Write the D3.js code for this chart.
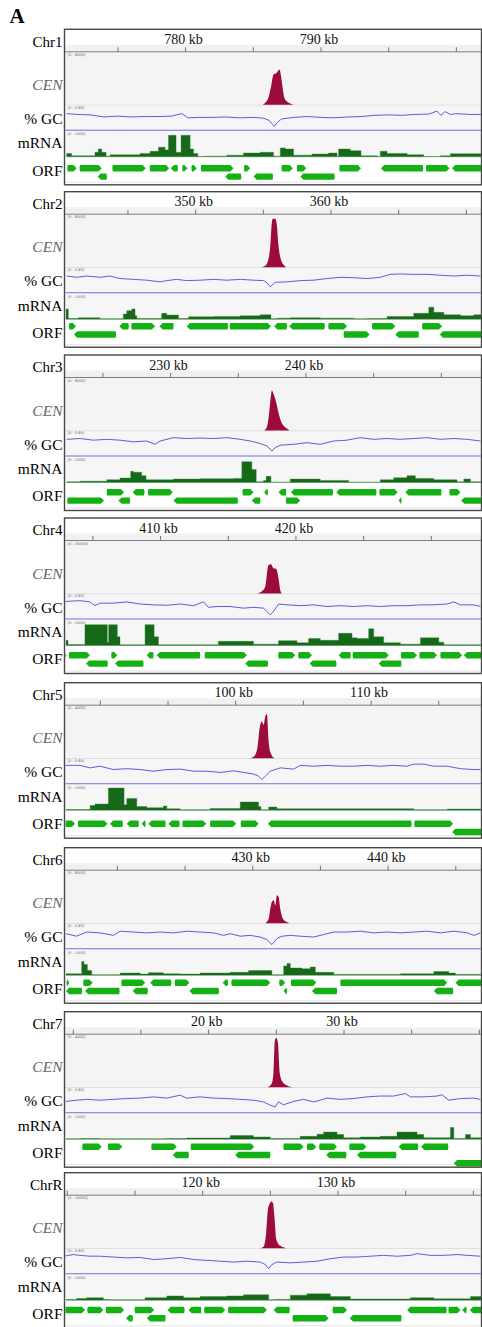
<!DOCTYPE html>
<html>
<head>
<meta charset="utf-8">
<script src="https://cdn.jsdelivr.net/npm/d3@7"></script>
<style>
  body { margin: 0; background: #fff; }
  svg { display: block; }
  svg text { font-family: "Liberation Serif", "Times New Roman", serif; }
</style>
</head>
<body>
<svg id="fig" width="482" height="1327"></svg>
<script>
// chromosome windows around each centromere (kb)
const chromNames = ["Chr1", "Chr2", "Chr3", "Chr4", "Chr5", "Chr6", "Chr7", "ChrR"];
const windowKb = [[771.2, 801.82], [340.46, 371.08], [222.31, 252.93], [403.05, 433.67],
                  [87.5, 118.12], [416.24, 446.86], [9.5, 40.12], [109.94, 140.56]];
const labeledTicks = [[780, 790], [350, 360], [230, 240], [410, 420], [100, 110], [430, 440], [20, 30], [120, 130]];
const cenScaleMax = [8000, 8000, 8000, 20000, 4000, 8000, 4000, 10000];
const gcScaleMax = 0.6;
const mrnaScaleMax = 1500;

// CENP-A ChIP signal [kb, reads]
const cenPeaks = [
  [[785.72,0],[785.92,310],[786.16,1135],[786.36,2940],[786.53,4645],[786.73,4850],[786.85,5160],[786.98,5420],[787.08,4490],[787.20,2680],[787.32,1135],[787.52,515],[787.77,205],[788.01,0]],
  [[354.88,0],[355.18,210],[355.37,895],[355.55,3260],[355.67,6945],[355.74,7470],[355.92,7470],[356.04,6420],[356.16,3260],[356.34,1160],[356.53,370],[356.73,0]],
  [[236.95,0],[237.15,525],[237.32,2735],[237.45,5365],[237.52,6155],[237.64,5630],[237.84,4315],[238.01,2735],[238.19,1420],[238.38,735],[238.63,315],[238.83,0]],
  [[417.15,0],[417.52,900],[417.77,2580],[418.01,10970],[418.19,11220],[418.38,9680],[418.58,9420],[418.75,5800],[418.88,1290],[419.00,0]],
  [[101.06,0],[101.41,155],[101.65,860],[101.80,2300],[101.97,2820],[102.10,2560],[102.22,3210],[102.34,3395],[102.47,1255],[102.64,340],[102.88,0]],
  [[430.96,0],[431.21,630],[431.33,2210],[431.45,3260],[431.58,3525],[431.70,2735],[431.82,4315],[431.95,4050],[432.07,2210],[432.27,630],[432.51,210],[432.76,0]],
  [[24.41,0],[24.71,297],[24.83,1160],[24.93,3590],[25.03,3810],[25.15,3455],[25.28,1160],[25.45,485],[25.82,135],[26.26,0]],
  [[124.29,0],[124.54,320],[124.73,3030],[124.86,7550],[124.98,8515],[125.10,8965],[125.23,8710],[125.33,6255],[125.47,1740],[125.77,450],[126.21,0]]
];

// GC fraction [kb, GC]
const gcTracks = [
  [[771.25,.40],[772,.38],[773,.37],[774,.32],[775,.34],[776,.32],[777,.33],[778,.33],[779,.34],[779.75,.40],[780.2,.30],[781,.31],[782,.31],[783,.32],[784,.30],[785,.31],[785.8,.29],[786.2,.24],[786.4,.16],[786.6,.10],[786.8,.18],[787.1,.27],[788,.31],[789,.33],[790,.31],[791,.30],[792,.32],[793,.33],[794,.36],[795,.37],[796,.36],[797,.38],[798,.39],[798.6,.46],[798.9,.36],[799.2,.45],[799.6,.38],[800,.40],[801,.38],[801.9,.38]],
  [[340.51,.40],[341.25,.37],[341.99,.40],[342.97,.37],[343.71,.40],[344.45,.34],[345.44,.32],[346.42,.30],[347.41,.26],[347.90,.29],[348.64,.32],[349.38,.29],[350.37,.30],[351.36,.32],[352.34,.30],[353.33,.32],[354.31,.30],[355.05,.29],[355.30,.24],[355.55,.14],[355.67,.18],[355.92,.25],[356.78,.26],[357.77,.29],[358.75,.30],[359.74,.34],[360.72,.37],[361.71,.36],[362.70,.34],[363.68,.37],[364.42,.44],[365.16,.45],[366.15,.44],[367.14,.44],[368.12,.42],[369.11,.40],[370.09,.42],[371.08,.40]],
  [[222.36,.40],[223.34,.42],[224.33,.38],[225.32,.40],[226.30,.38],[227.29,.34],[228.27,.36],[228.89,.28],[229.26,.36],[230.25,.44],[231.23,.42],[232.22,.43],[233.21,.42],[234.19,.44],[235.18,.40],[235.92,.36],[236.66,.30],[237.15,.24],[237.52,.12],[237.77,.20],[238.14,.26],[239.12,.28],[240.11,.32],[241.09,.28],[242.08,.36],[243.07,.38],[244.05,.44],[245.04,.40],[246.03,.42],[247.01,.40],[248.00,.42],[248.98,.44],[249.97,.40],[250.96,.42],[251.94,.40],[252.93,.36]],
  [[402.97,.42],[404.08,.44],[404.82,.41],[405.19,.32],[405.56,.38],[406.55,.38],[407.53,.41],[408.52,.36],[409.51,.34],[410.49,.33],[411.48,.36],[412.47,.32],[413.21,.41],[413.57,.28],[414.19,.30],[415.18,.30],[416.16,.26],[416.90,.28],[417.64,.26],[417.89,.18],[418.14,.10],[418.38,.18],[418.75,.36],[419.37,.34],[420.36,.32],[421.34,.34],[422.33,.30],[423.31,.32],[424.30,.30],[425.29,.32],[426.27,.30],[427.26,.32],[428.24,.32],[429.23,.34],[430.22,.34],[431.20,.36],[431.70,.41],[432.19,.34],[433.18,.34],[433.67,.30]],
  [[87.43,.44],[88.54,.44],[89.28,.38],[90.01,.42],[91.00,.34],[91.99,.36],[92.97,.34],[93.96,.30],[94.95,.34],[95.93,.35],[96.92,.30],[97.90,.30],[98.89,.27],[99.88,.31],[100.62,.27],[101.36,.23],[101.73,.18],[101.97,.10],[102.22,.18],[102.59,.30],[103.33,.38],[104.31,.35],[104.81,.44],[105.79,.42],[106.78,.44],[107.77,.42],[108.75,.42],[109.74,.44],[110.72,.42],[111.71,.44],[112.70,.42],[113.19,.47],[113.93,.47],[114.67,.42],[115.66,.42],[116.64,.36],[117.63,.34],[118.12,.34]],
  [[416.24,.36],[417.03,.30],[417.77,.40],[418.76,.38],[419.74,.32],[420.24,.42],[421.22,.40],[422.21,.38],[423.20,.40],[424.18,.38],[425.17,.42],[426.15,.40],[427.14,.38],[427.88,.32],[428.37,.36],[429.11,.30],[429.85,.32],[430.59,.28],[431.08,.22],[431.45,.10],[431.82,.24],[432.19,.30],[432.81,.32],[433.55,.30],[434.54,.28],[435.52,.36],[436.02,.40],[437.00,.40],[437.99,.42],[438.97,.38],[439.96,.40],[440.95,.38],[441.93,.40],[442.92,.42],[443.91,.38],[444.89,.42],[445.88,.38],[446.37,.32],[446.86,.38]],
  [[9.50,.27],[10.29,.30],[11.03,.32],[12.01,.30],[13.00,.32],[13.98,.34],[14.97,.35],[15.96,.38],[16.94,.35],[17.93,.42],[18.42,.35],[19.41,.38],[20.39,.35],[21.38,.34],[22.37,.32],[23.35,.30],[24.09,.26],[24.59,.18],[24.96,.14],[25.20,.26],[25.57,.19],[26.31,.27],[27.05,.32],[27.79,.26],[28.28,.30],[28.78,.35],[29.76,.32],[30.75,.34],[31.74,.38],[32.72,.40],[33.71,.40],[34.57,.46],[34.94,.38],[35.93,.38],[36.91,.40],[37.28,.43],[37.78,.30],[38.64,.34],[39.63,.35],[40.12,.32]],
  [[109.79,.42],[110.48,.46],[110.98,.44],[111.72,.42],[112.46,.42],[113.44,.40],[114.43,.38],[115.41,.39],[116.40,.34],[117.39,.36],[118.37,.39],[119.36,.34],[120.35,.32],[121.33,.30],[122.32,.28],[123.30,.30],[124.29,.28],[124.66,.22],[124.91,.12],[125.15,.22],[125.52,.28],[126.51,.26],[127.50,.28],[128.48,.30],[129.47,.36],[130.45,.40],[131.44,.40],[132.43,.42],[133.41,.44],[134.40,.42],[135.38,.44],[135.88,.48],[136.86,.44],[137.85,.44],[138.84,.46],[139.58,.44],[140.56,.42]]
];

// RNA-seq coverage, step starts [kb, reads]
const mrnaTracks = [
  [[771.25,205],[771.62,60],[773.34,270],[773.59,470],[773.84,270],[774.16,40],[774.45,120],[776.67,205],[777.41,330],[778.03,575],[778.52,410],[778.77,1290],[779.33,270],[779.70,1290],[780.37,470],[780.62,205],[780.94,20],[781.41,40],[783.08,100],[784.31,225],[785.55,270],[786.53,40],[787.03,530],[787.40,470],[788.01,100],[789.37,165],[790.60,225],[791.22,40],[791.34,470],[792.20,370],[792.99,60],[794.18,20],[794.42,330],[794.92,205],[796.40,125],[797.63,20],[798.86,60],[799.60,185],[801.97,185]],
  [[340.46,615],[340.63,40],[341.37,80],[342.97,20],[344.70,310],[344.95,510],[345.32,615],[345.56,205],[345.69,40],[347.53,350],[347.90,245],[348.77,40],[349.51,145],[351.36,165],[353.33,205],[354.81,265],[355.60,20],[356.04,60],[357.03,80],[359.25,60],[361.71,20],[362.70,40],[364.18,165],[366.15,350],[367.26,720],[367.63,410],[368.37,265],[369.60,205],[370.59,265],[371.23,265]],
  [[222.36,40],[223.34,80],[225.32,165],[226.30,265],[227.09,675],[227.29,615],[227.90,410],[228.22,165],[230.25,205],[232.22,225],[234.68,245],[235.30,1250],[236.04,780],[236.36,40],[236.90,125],[237.10,370],[237.45,20],[238.88,205],[241.09,125],[243.19,20],[245.53,165],[246.52,285],[247.50,410],[248.12,245],[249.48,165],[251.20,40],[251.70,205],[252.19,40],[253.08,40]],
  [[403.05,310],[403.2,60],[404.45,1250],[406.10,200],[406.20,1250],[406.84,520],[407.04,40],[408.89,1250],[409.56,520],[409.88,40],[414.31,250],[416.90,80],[418.75,290],[420.11,165],[420.97,415],[421.83,310],[423.19,730],[424.18,460],[424.55,415],[425.41,1000],[425.78,520],[426.52,165],[427.75,80],[429.23,460],[430.59,200],[430.96,40],[433.82,40]],
  [[87.5,40],[89.28,280],[89.64,365],[90.63,1330],[91.79,320],[91.99,705],[92.73,215],[93.47,150],[94.70,255],[94.95,85],[95.93,20],[98.15,105],[100.37,490],[101.73,215],[101.90,20],[102.47,190],[103.08,85],[113.19,20],[115.66,65],[118.27,65]],
  [[416.24,85],[417.40,815],[417.57,645],[417.82,280],[418.14,20],[420.24,130],[421.72,65],[422.33,150],[423.44,85],[424.67,65],[426.15,130],[428.37,170],[429.73,280],[431.45,20],[432.32,555],[432.56,705],[432.81,430],[433.67,385],[434.29,495],[434.66,170],[436.02,45],[440.95,85],[443.41,215],[444.52,130],[445.01,45],[447.01,45]],
  [[9.50,20],[10.53,40],[12.01,20],[16.94,40],[18.42,65],[21.63,215],[23.35,130],[24.59,40],[26.80,170],[28.04,300],[28.53,430],[29.52,280],[30.01,85],[31.24,130],[32.72,170],[33.95,430],[35.43,280],[35.93,85],[37.90,705],[38.15,40],[39.01,280],[39.38,85],[40.27,85]],
  [[109.94,45],[110.73,105],[111.47,150],[112.70,45],[113.20,20],[115.78,150],[117.39,255],[118.62,150],[119.85,215],[121.82,255],[123.06,320],[124.91,20],[125.28,45],[126.51,300],[127.74,385],[129.47,215],[130.95,65],[135.38,150],[137.11,85],[139.82,215],[140.71,215]]
];

// ORFs [start kb, end kb, row, strand]
const orfTracks = [
  [[771.25,771.99,0,1],[772.16,773.84,0,1],[774.58,777.09,0,1],[777.34,778.82,0,1],[778.94,779.51,0,-1],[779.75,780.17,0,1],[780.42,780.86,0,1],[781.11,783.57,0,1],[784.31,784.81,0,1],[787.08,787.96,0,1],[788.21,788.95,0,1],[791.34,792.99,0,1],[794.47,797.63,0,-1],[797.75,799.53,0,1],[799.72,801.97,0,-1],[773.54,774.26,1,-1],[782.96,784.19,1,-1],[785.05,786.53,1,-1],[788.51,791.09,1,-1]],
  [[340.63,341.20,0,1],[344.40,345.14,0,-1],[345.24,347.04,0,1],[347.36,348.45,0,-1],[349.38,352.47,0,-1],[352.51,355.60,0,1],[355.84,356.83,0,-1],[356.95,359.62,0,-1],[359.79,361.22,0,1],[363.02,364.79,0,1],[366.72,368.24,0,1],[341.05,344.21,1,-1],[360.92,362.89,1,1],[364.79,366.57,1,-1],[368.07,371.23,1,-1]],
  [[225.27,226.60,0,1],[227.24,228.15,0,-1],[228.32,230.20,0,1],[235.30,236.16,0,1],[236.95,237.27,0,-1],[238.01,238.63,0,-1],[238.93,242.08,0,-1],[242.28,245.29,0,-1],[245.41,246.81,0,1],[247.38,250.09,0,-1],[250.59,251.45,0,1],[222.36,225.12,1,1],[226.18,227.09,1,-1],[230.25,235.05,1,-1],[236.04,236.71,1,-1],[238.51,239.62,1,1],[246.89,247.14,1,-1],[251.50,253.08,1,-1]],
  [[402.85,403.1,0,1],[403.22,404.82,0,1],[406.35,406.84,0,1],[409.01,409.56,0,-1],[409.75,413.01,0,-1],[413.25,416.41,0,1],[418.68,419.99,0,1],[420.16,421.22,0,1],[423.19,424.13,0,-1],[424.18,426.89,0,1],[427.75,428.98,0,1],[429.11,430.46,0,1],[430.66,432.31,0,1],[432.44,433.82,0,-1],[404.53,406.18,1,-1],[406.67,408.82,1,-1],[416.29,418.01,1,-1],[421.05,423.07,1,-1],[426.15,427.87,1,-1]],
  [[87.4,88.17,0,1],[88.34,90.56,0,1],[90.75,91.74,0,-1],[91.99,92.92,0,-1],[93.10,93.42,0,-1],[93.59,94.90,0,-1],[95.07,95.93,0,-1],[96.06,97.86,0,1],[98.10,100.07,0,1],[100.37,101.73,0,1],[102.42,113.07,0,-1],[113.19,116.10,0,1],[116.03,118.27,1,-1]],
  [[416.24,416.49,0,1],[417.47,418.21,0,1],[420.29,422.09,0,1],[422.46,424.06,0,-1],[424.23,425.36,0,1],[427.81,428.25,0,-1],[428.42,431.33,0,1],[431.95,432.44,0,1],[432.81,434.73,0,1],[436.46,444.40,0,1],[445.01,447.01,0,-1],[416.24,417.47,1,-1],[417.65,420.24,1,-1],[421.17,422.33,1,-1],[425.36,427.58,1,-1],[432.32,432.61,1,-1],[434.41,436.31,1,-1],[443.41,444.89,1,-1]],
  [[10.66,12.14,0,1],[12.55,13.66,0,1],[15.76,17.68,0,1],[18.67,23.40,0,1],[25.52,27.05,0,1],[27.25,27.99,0,1],[28.16,29.52,0,1],[30.38,31.69,0,1],[34.08,35.56,0,-1],[35.73,37.78,0,-1],[17.39,18.62,1,-1],[22.00,24.64,1,-1],[28.73,30.26,1,-1],[31.00,33.95,1,-1],[38.15,40.27,2,-1]],
  [[109.8,111.35,0,1],[111.47,112.70,0,1],[112.83,114.23,0,1],[114.97,116.45,0,1],[117.44,118.74,0,-1],[118.99,119.98,0,-1],[120.10,121.70,0,1],[121.87,124.78,0,1],[125.28,126.51,0,-1],[129.59,130.70,0,1],[135.14,138.10,0,-1],[138.15,139.08,0,1],[139.21,139.58,0,-1],[139.77,140.71,0,-1],[114.38,114.92,1,-1],[115.91,117.34,1,-1],[126.63,129.34,1,1],[130.90,134.77,1,-1]]
];

// layout
const panelTops = [29.3, 191.7, 355, 518, 682.7, 847.7, 1011.7, 1172.7];
const orfRowTop = [139, 134.5, 137.3, 137.3, 141, 135, 135, 137.3];
const boxLeft = 64.5, boxRight = 481.5, boxH = 155.5;
const plotLeft = 66, plotRight = 480.5;
const labelX = 62.5;
const serif = "'Liberation Serif', 'Times New Roman', serif";

const svg = d3.select("#fig");

svg.append("text")
    .attr("x", 9.5).attr("y", 22.7)
    .style("font-family", serif)
    .style("font-size", "21px").style("font-weight", "bold")
    .text("A");

chromNames.forEach((name, i) => {
    const T = panelTops[i];
    const dom = windowKb[i];
    const x = d3.scaleLinear().domain(dom).range([plotLeft, plotRight]);
    const g = svg.append("g");

    // clip for data
    const clipId = "clip" + i;
    svg.append("clipPath").attr("id", clipId)
        .append("rect").attr("x", plotLeft - 0.5).attr("y", T).attr("width", plotRight - plotLeft + 1).attr("height", boxH);

    // ruler band + track backgrounds
    g.append("rect").attr("x", boxLeft).attr("y", T + 15.5).attr("width", boxRight - boxLeft).attr("height", 7).attr("fill", "#f1f1f1");
    g.append("rect").attr("x", boxLeft).attr("y", T + 23).attr("width", boxRight - boxLeft).attr("height", 52.5).attr("fill", "#f4f4f4");
    g.append("rect").attr("x", boxLeft).attr("y", T + 76).attr("width", boxRight - boxLeft).attr("height", 26).attr("fill", "#f6f6f6");
    g.append("rect").attr("x", boxLeft).attr("y", T + 102.5).attr("width", boxRight - boxLeft).attr("height", 25.5).attr("fill", "#f6f6f6");
    g.append("line").attr("x1", boxLeft).attr("x2", boxRight).attr("y1", T + 75.8).attr("y2", T + 75.8)
        .attr("stroke", "#d9d9d9").attr("stroke-width", 0.8);
    g.append("line").attr("x1", boxLeft).attr("x2", boxRight).attr("y1", T + 153).attr("y2", T + 153)
        .attr("stroke", "#dcdcdc").attr("stroke-width", 0.8);

    // ruler
    g.append("line").attr("x1", boxLeft).attr("x2", boxRight).attr("y1", T + 22.5).attr("y2", T + 22.5)
        .attr("stroke", "#6e6e6e").attr("stroke-width", 0.9);
    const tickVals = d3.range(Math.ceil(dom[0] / 5) * 5, dom[1], 5);
    const axis = g.append("g")
        .attr("transform", `translate(0,${T + 22.5})`)
        .call(d3.axisTop(x).tickValues(tickVals).tickSize(4.5).tickPadding(3.3)
            .tickFormat(d => labeledTicks[i].includes(d) ? d + " kb" : ""));
    axis.select(".domain").remove();
    axis.selectAll(".tick line").attr("stroke", "#666").attr("stroke-width", 0.9);
    axis.selectAll(".tick text")
        .style("font-family", serif)
        .attr("font-size", 14).attr("fill", "#111").attr("dx", -2);

    // track scale notes
    const notes = [["[0 - " + cenScaleMax[i] + "]", 26.5], ["[0 - " + gcScaleMax.toFixed(2) + "]", 79.3], ["[0 - " + mrnaScaleMax + "]", 105.8]];
    notes.forEach(([t, dy]) => {
        g.append("text").attr("x", 67.5).attr("y", T + dy)
            .style("font-size", "3.6px").style("font-family", "'DejaVu Sans', sans-serif")
            .attr("fill", "#666").text(t);
    });

    const data = g.append("g").attr("clip-path", `url(#${clipId})`);

    // CEN peak
    const yCen = d3.scaleLinear().domain([0, cenScaleMax[i]]).range([T + 75.5, T + 23.5]);
    data.append("path")
        .datum(cenPeaks[i])
        .attr("fill", "#9c0b3b")
        .attr("d", d3.area().x(d => x(d[0])).y0(T + 75.5).y1(d => yCen(d[1])).curve(d3.curveMonotoneX));

    // GC
    const yGc = d3.scaleLinear().domain([0, gcScaleMax]).range([T + 101, T + 76]);
    data.append("line").attr("x1", boxLeft).attr("x2", boxRight).attr("y1", T + 101).attr("y2", T + 101)
        .attr("stroke", "#6d6de6").attr("stroke-width", 1.1);
    data.append("path")
        .datum(gcTracks[i])
        .attr("fill", "none").attr("stroke", "#4b4bd8").attr("stroke-width", 0.9)
        .attr("d", d3.line().x(d => x(d[0])).y(d => yGc(d[1])));

    // mRNA
    const yRna = d3.scaleLinear().domain([0, mrnaScaleMax]).range([T + 127.5, T + 102.5]);
    data.append("path")
        .datum(mrnaTracks[i])
        .attr("fill", "#17691a").attr("stroke", "#2f7f2f").attr("stroke-width", 0.4)
        .attr("d", d3.area().x(d => x(d[0])).y0(T + 127.5).y1(d => yRna(d[1])).curve(d3.curveStepAfter));

    // ORFs
    const h = 6.4;
    data.selectAll(".orf")
        .data(orfTracks[i])
        .enter()
        .append("path")
        .attr("class", "orf")
        .attr("fill", "#13b113")
        .attr("d", d => {
            const x0 = x(d[0]), x1 = x(d[1]);
            const y = T + orfRowTop[i] + d[2] * 8.3;
            const a = Math.min(3.2, (x1 - x0) * 0.6);
            if (d[3] > 0) {
                return `M${x0 + 1},${y - h / 2}H${x1 - a}L${x1},${y}L${x1 - a},${y + h / 2}H${x0 + 1}Q${x0},${y} ${x0 + 1},${y - h / 2}Z`;
            }
            return `M${x1 - 1},${y - h / 2}H${x0 + a}L${x0},${y}L${x0 + a},${y + h / 2}H${x1 - 1}Q${x1},${y} ${x1 - 1},${y - h / 2}Z`;
        });

    // panel border
    g.append("rect").attr("x", boxLeft).attr("y", T).attr("width", boxRight - boxLeft).attr("height", boxH)
        .attr("fill", "none").attr("stroke", "#474747").attr("stroke-width", 1.4);

    // row labels
    const labels = [[name, 17.4, "normal", "#000"], ["CEN", 60.7, "italic", "#666"], ["% GC", 94.7, "normal", "#000"],
                    ["mRNA", 119, "normal", "#000"], ["ORF", 146.4, "normal", "#000"]];
    labels.forEach(([t, dy, st, col]) => {
        svg.append("text")
            .attr("x", labelX).attr("y", T + dy)
            .attr("text-anchor", "end")
            .style("font-family", serif)
            .style("font-size", t === name ? "15px" : "15.5px")
            .style("font-style", st)
            .attr("fill", col)
            .text(t);
    });
});
</script>
</body>
</html>
